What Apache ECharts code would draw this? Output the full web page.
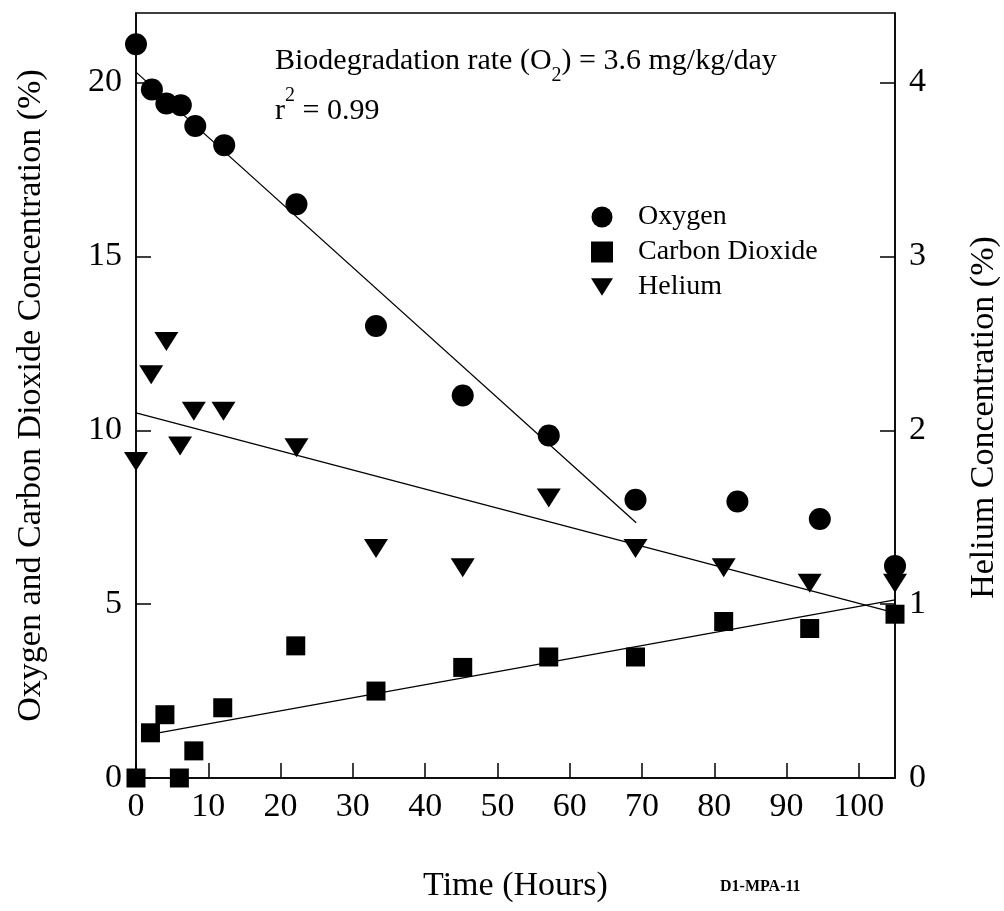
<!DOCTYPE html>
<html>
<head>
<meta charset="utf-8">
<script src="https://cdn.jsdelivr.net/npm/echarts@6/dist/echarts.min.js"></script>
<style>
  html, body { margin: 0; padding: 0; background: #fff; }
  #main { width: 1004px; height: 911px; }
</style>
</head>
<body>
<div id="main"></div>
<script>
// measured points (hours vs %)
var o2Hours = [0, 2.2, 4.2, 6.2, 8.2, 12.2, 22.2, 33.2, 45.2, 57.1, 69.1, 83.2, 94.6, 105];
var o2Values = [21.1, 19.8, 19.4, 19.35, 18.75, 18.2, 16.5, 13.0, 11.0, 9.85, 8.0, 7.95, 7.45, 6.1];

var co2Hours = [0, 2, 4, 6, 8, 12, 22.1, 33.2, 45.2, 57.1, 69.1, 81.3, 93.2, 105];
var co2Values = [0, 1.3, 1.82, 0, 0.78, 2.02, 3.8, 2.5, 3.18, 3.48, 3.48, 4.5, 4.3, 4.71];

var heHours = [0, 2.1, 4.2, 6.1, 8.0, 12.1, 22.2, 33.2, 45.2, 57.1, 69.1, 81.3, 93.2, 105];
var heValues = [1.82, 2.32, 2.51, 1.91, 2.11, 2.11, 1.9, 1.32, 1.21, 1.61, 1.32, 1.21, 1.12, 1.12];

// regression lines (end points)
var o2FitHours = [0, 69.2];
var o2FitValues = [20.3, 7.34];
var co2FitHours = [0.8, 105];
var co2FitValues = [1.21, 5.12];
var heFitHours = [0, 105];
var heFitValues = [2.10, 0.95];

var seriesNames = ['Oxygen', 'Carbon Dioxide', 'Helium'];

function pairs(xs, ys) {
    return xs.map(function (x, i) { return [x, ys[i]]; });
}

var FONT = 'Liberation Serif';
var downTriangle = 'path://M0,0L24,0L12,19Z';

var myChart = echarts.init(document.getElementById('main'));

function axisBase() {
    return {
        axisLine: { show: true, lineStyle: { color: '#000', width: 1.5 } },
        axisTick: { show: true, inside: true, length: 15, lineStyle: { color: '#000', width: 1.5 } },
        axisLabel: { color: '#000', fontFamily: FONT, fontSize: 34, showMaxLabel: false },
        splitLine: { show: false },
        nameTextStyle: { color: '#000', fontFamily: FONT, fontSize: 34 }
    };
}

var xAxis = axisBase();
Object.assign(xAxis, {
    type: 'value', min: 0, max: 105, interval: 10,
    name: 'Time (Hours)', nameLocation: 'middle', nameGap: 91
});
xAxis.axisLabel.margin = 12;

var yLeft = axisBase();
Object.assign(yLeft, {
    type: 'value', min: 0, max: 22, interval: 5, position: 'left',
    name: 'Oxygen and Carbon Dioxide Concentration (%)', nameLocation: 'middle', nameGap: 88, nameRotate: 90
});
yLeft.axisLabel.margin = 14;

var yRight = axisBase();
Object.assign(yRight, {
    type: 'value', min: 0, max: 4.4, interval: 1, position: 'right',
    name: 'Helium Concentration (%)', nameLocation: 'middle', nameGap: 72, nameRotate: 90
});
yRight.axisLabel.margin = 14;
// shift the right title a little downwards, as in the original
yRight.nameTextStyle.padding = [0, 44, 0, 0];

var dots = { color: '#000', opacity: 1 };

var option = {
    backgroundColor: '#fff',
    animation: false,
    grid: {
        left: 136, right: 109, top: 13, bottom: 133,
        outerBoundsMode: 'none',
        show: true, borderColor: '#000', borderWidth: 1.5, backgroundColor: 'transparent'
    },
    legend: {
        data: seriesNames,
        orient: 'vertical',
        left: 586, top: 198,
        itemWidth: 22, itemHeight: 21, itemGap: 7,
        textStyle: { color: '#000', fontFamily: FONT, fontSize: 28, padding: [0, 0, 0, 20] }
    },
    xAxis: xAxis,
    yAxis: [yLeft, yRight],
    graphic: [
        {
            type: 'text', left: 275, top: 46,
            style: {
                text: '{a|Biodegradation rate (O}{s|2}{a|) = 3.6 mg/kg/day}\n{a|r}{p|2}{a| = 0.99}',
                fill: '#000',
                rich: {
                    a: { fontFamily: FONT, fontSize: 30, lineHeight: 50, fill: '#000' },
                    s: { fontFamily: FONT, fontSize: 20, lineHeight: 12, verticalAlign: 'bottom', fill: '#000' },
                    p: { fontFamily: FONT, fontSize: 20, lineHeight: 12, verticalAlign: 'top', fill: '#000' }
                }
            }
        },
        {
            type: 'text', left: 720, top: 879,
            style: { text: 'D1-MPA-11', fill: '#000', fontFamily: FONT, fontSize: 16, fontWeight: 'bold' }
        }
    ],
    series: [
        {
            name: 'Oxygen', type: 'scatter', yAxisIndex: 0,
            symbol: 'circle', symbolSize: 22,
            itemStyle: dots,
            data: pairs(o2Hours, o2Values)
        },
        {
            name: 'Carbon Dioxide', type: 'scatter', yAxisIndex: 0,
            symbol: 'rect', symbolSize: 19,
            itemStyle: dots,
            data: pairs(co2Hours, co2Values)
        },
        {
            name: 'Helium', type: 'scatter', yAxisIndex: 1,
            symbol: downTriangle, symbolSize: [24, 19],
            itemStyle: dots,
            data: pairs(heHours, heValues)
        },
        {
            type: 'line', yAxisIndex: 0, symbol: 'none', silent: true,
            lineStyle: { color: '#000', width: 1.3 },
            data: pairs(o2FitHours, o2FitValues)
        },
        {
            type: 'line', yAxisIndex: 0, symbol: 'none', silent: true,
            lineStyle: { color: '#000', width: 1.3 },
            data: pairs(co2FitHours, co2FitValues)
        },
        {
            type: 'line', yAxisIndex: 1, symbol: 'none', silent: true,
            lineStyle: { color: '#000', width: 1.3 },
            data: pairs(heFitHours, heFitValues)
        }
    ]
};

myChart.setOption(option);
</script>
</body>
</html>
